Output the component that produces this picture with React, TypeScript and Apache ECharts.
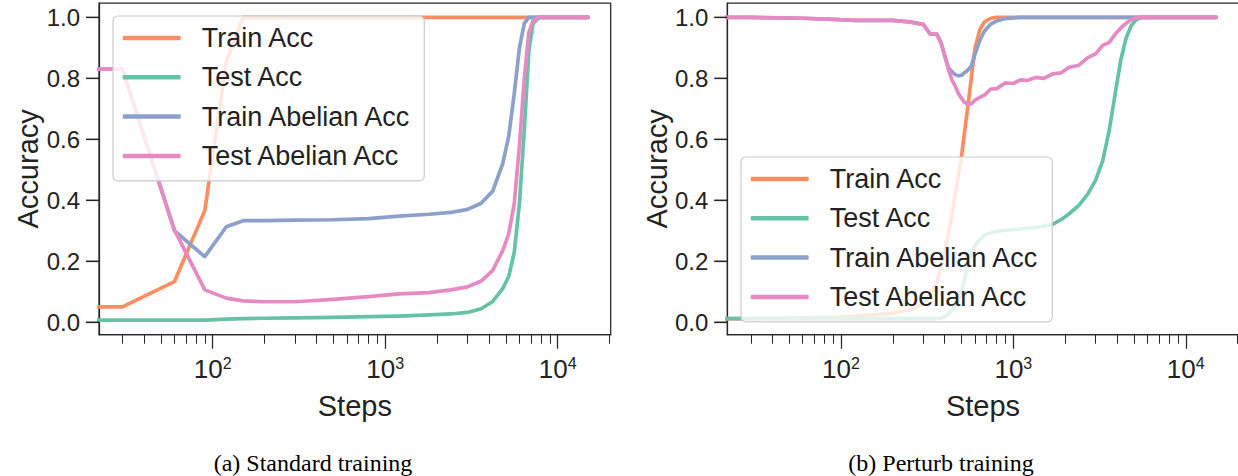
import React, { useEffect, useRef } from "react";
import * as echarts from "echarts";

const SERIES_NAMES = ["Train Acc", "Test Acc", "Train Abelian Acc", "Test Abelian Acc"];
const COLORS = ["#fc8d62", "#66c2a5", "#8da0cb", "#e78ac3"];

const Y_TICKS = [0, 0.2, 0.4, 0.6, 0.8, 1.0];
const X_MAJOR_TICKS = [100, 1000, 10000];
const X_MINOR_TICKS = [
  30, 40, 50, 60, 70, 80, 90,
  200, 300, 400, 500, 600, 700, 800, 900,
  2000, 3000, 4000, 5000, 6000, 7000, 8000, 9000,
  20000,
];
const CAPTIONS = ["(a) Standard training", "(b) Perturb training"];

// (a) Standard training  (first step stands for step 0, which falls left of the log axis)
const stdSteps = [20, 30, 60, 90, 120, 150, 200, 300, 500, 800, 1200, 1800, 2400, 3000, 3600, 4200, 4800, 5200, 5600, 6000, 6400, 6800, 7200, 7800, 9000, 15000];
const stdTrainAcc = [0.05, 0.05, 0.133, 0.366, 0.855, 1.0, 1.0, 1.0, 1.0, 1.0, 1.0, 1.0, 1.0, 1.0, 1.0, 1.0, 1.0, 1.0, 1.0, 1.0, 1.0, 1.0, 1.0, 1.0, 1.0, 1.0];
const stdTestAcc = [0.007, 0.007, 0.007, 0.007, 0.01, 0.012, 0.013, 0.014, 0.016, 0.018, 0.02, 0.024, 0.027, 0.032, 0.044, 0.068, 0.11, 0.15, 0.23, 0.39, 0.63, 0.89, 0.98, 1.0, 1.0, 1.0];
const stdTrainAbelian = [0.83, 0.83, 0.3, 0.215, 0.313, 0.333, 0.333, 0.335, 0.336, 0.34, 0.348, 0.354, 0.36, 0.37, 0.39, 0.43, 0.52, 0.61, 0.75, 0.9, 0.98, 1.0, 1.0, 1.0, 1.0, 1.0];
const stdTestAbelian = [0.83, 0.83, 0.303, 0.106, 0.079, 0.07, 0.067, 0.067, 0.075, 0.084, 0.093, 0.097, 0.106, 0.116, 0.135, 0.17, 0.235, 0.29, 0.39, 0.58, 0.8, 0.95, 0.99, 1.0, 1.0, 1.0];

// (b) Perturb training
const ptbSteps = [20, 30, 60, 90, 120, 150, 200, 250, 300, 330, 360, 380, 400, 420, 440, 460, 480, 500, 520, 540, 570, 600, 640, 680, 740, 800, 900, 1000, 1100, 1200, 1350, 1500, 1700, 1900, 2100, 2400, 2700, 3000, 3300, 3600, 3900, 4200, 4500, 4800, 5100, 5500, 7000, 15000];
const ptbTrainAcc = [0.012, 0.012, 0.014, 0.016, 0.02, 0.024, 0.03, 0.04, 0.06, 0.09, 0.13, 0.18, 0.23, 0.29, 0.35, 0.42, 0.48, 0.54, 0.62, 0.69, 0.8, 0.9, 0.96, 0.985, 0.997, 1.0, 1.0, 1.0, 1.0, 1.0, 1.0, 1.0, 1.0, 1.0, 1.0, 1.0, 1.0, 1.0, 1.0, 1.0, 1.0, 1.0, 1.0, 1.0, 1.0, 1.0, 1.0, 1.0];
const ptbTestAcc = [0.012, 0.012, 0.012, 0.012, 0.012, 0.012, 0.012, 0.012, 0.012, 0.012, 0.012, 0.013, 0.018, 0.026, 0.04, 0.055, 0.075, 0.1, 0.135, 0.18, 0.225, 0.252, 0.272, 0.285, 0.293, 0.298, 0.301, 0.304, 0.306, 0.308, 0.311, 0.315, 0.322, 0.337, 0.355, 0.383, 0.42, 0.465, 0.53, 0.63, 0.75, 0.86, 0.93, 0.97, 0.99, 1.0, 1.0, 1.0];
const ptbTrainAbelian = [1.0, 1.0, 0.997, 0.993, 0.99, 0.99, 0.99, 0.985, 0.977, 0.945, 0.945, 0.918, 0.875, 0.835, 0.822, 0.812, 0.808, 0.81, 0.818, 0.825, 0.84, 0.88, 0.925, 0.955, 0.978, 0.988, 0.996, 0.998, 1.0, 1.0, 1.0, 1.0, 1.0, 1.0, 1.0, 1.0, 1.0, 1.0, 1.0, 1.0, 1.0, 1.0, 1.0, 1.0, 1.0, 1.0, 1.0, 1.0];
const ptbTestAbelian = [1.0, 1.0, 0.997, 0.993, 0.99, 0.99, 0.99, 0.985, 0.977, 0.945, 0.945, 0.918, 0.875, 0.83, 0.795, 0.775, 0.75, 0.735, 0.722, 0.716, 0.716, 0.728, 0.738, 0.745, 0.765, 0.766, 0.785, 0.783, 0.795, 0.793, 0.803, 0.8, 0.815, 0.818, 0.836, 0.843, 0.868, 0.88, 0.908, 0.918, 0.945, 0.965, 0.98, 0.992, 0.998, 1.0, 1.0, 1.0];

const PANELS = [
  { steps: stdSteps, values: [stdTrainAcc, stdTestAcc, stdTrainAbelian, stdTestAbelian] },
  { steps: ptbSteps, values: [ptbTrainAcc, ptbTestAcc, ptbTrainAbelian, ptbTestAbelian] },
];

const SANS = '"Liberation Sans", Arial, Helvetica, sans-serif';
const SERIF = '"Liberation Serif", "Times New Roman", serif';
const INK = "#262626";
const X_MIN = 21.93;
const X_MAX = 20280;
const Y_MIN = -0.041;
const Y_MAX = 1.047;
const Y_TICK_LEN = 13;

const GRIDS = [
  { left: 99, top: 3, width: 511.7, height: 331.7 },
  { left: 727.3, top: 3, width: 511.4, height: 331.7 },
];
const LEGEND_POS = [
  { left: 113, top: 16 },
  { left: 741, top: 157 },
];
const CAPTION_POS = [
  { x: 313, y: 463 },
  { x: 941, y: 463 },
];

function tickOnlyX(gi: number, values: number[], length: number, width: number) {
  return {
    type: "log",
    logBase: 10,
    gridIndex: gi,
    min: X_MIN,
    max: X_MAX,
    position: "bottom",
    axisLine: { show: false, onZero: false },
    axisTick: { show: true, inside: false, customValues: values, length, lineStyle: { color: INK, width } },
    axisLabel: { show: false },
    minorTick: { show: false },
    splitLine: { show: false },
  };
}

function captionGraphics() {
  return CAPTIONS.map((text, i) => ({
    id: `caption-${i}`,
    type: "text",
    x: CAPTION_POS[i].x,
    y: CAPTION_POS[i].y,
    style: {
      text,
      fontSize: 24,
      fontFamily: SERIF,
      fill: "#000",
      align: "center",
      verticalAlign: "middle",
    },
  }));
}

function buildOption() {
  const grid = GRIDS.map((g) => ({ ...g, show: true, borderColor: INK, borderWidth: 1.25, backgroundColor: "transparent", outerBoundsMode: "none" }));
  const xAxis: any[] = [];
  const yAxis: any[] = [];
  GRIDS.forEach((_, gi) => {
    xAxis.push({
      type: "log",
      logBase: 10,
      gridIndex: gi,
      min: X_MIN,
      max: X_MAX,
      position: "bottom",
      axisLine: { show: true, onZero: false, lineStyle: { color: INK, width: 1.25 } },
      axisTick: { show: false },
      minorTick: { show: false },
      splitLine: { show: false },
      axisLabel: {
        customValues: X_MAJOR_TICKS,
        margin: 21,
        formatter: (v: number) => {
          const e = v > 20 ? Math.round(Math.log10(v)) : Math.round(v);
          return `{b|10}{s|${e}}`;
        },
        rich: {
          b: { fontSize: 26, lineHeight: 26, fontFamily: SANS, color: "#222", padding: [9, 0, 0, 0], verticalAlign: "bottom" },
          s: { fontSize: 16, lineHeight: 16, fontFamily: SANS, color: "#222", verticalAlign: "top" },
        },
      },
      name: "Steps",
      nameLocation: "middle",
      nameGap: 57,
      nameTextStyle: { fontSize: 29, color: "#222", fontFamily: SANS },
    });
    xAxis.push(tickOnlyX(gi, X_MAJOR_TICKS, 14, 1.25));
    xAxis.push(tickOnlyX(gi, X_MINOR_TICKS, 9, 1));
    yAxis.push({
      type: "value",
      gridIndex: gi,
      min: Y_MIN,
      max: Y_MAX,
      position: "left",
      axisLine: { show: true, onZero: false, lineStyle: { color: INK, width: 1.25 } },
      axisTick: { show: true, inside: false, customValues: Y_TICKS, length: Y_TICK_LEN, lineStyle: { color: INK, width: 1.25 } },
      splitLine: { show: false },
      axisLabel: {
        customValues: Y_TICKS,
        formatter: (v: number) => v.toFixed(1),
        fontSize: 24,
        color: "#222",
        fontFamily: SANS,
        margin: 19,
      },
      name: "Accuracy",
      nameLocation: "middle",
      nameGap: 56,
      nameTextStyle: { fontSize: 29, color: "#222", fontFamily: SANS },
    });
  });

  const series: any[] = [];
  PANELS.forEach((p, pi) => {
    p.values.forEach((vals, si) => {
      series.push({
        type: "line",
        name: SERIES_NAMES[si],
        xAxisIndex: pi * 3,
        yAxisIndex: pi,
        data: p.steps.map((s, i) => [s, vals[i]]),
        showSymbol: false,
        symbol: "none",
        clip: true,
        lineStyle: { width: 3.7, color: COLORS[si], cap: "round", join: "round" },
        itemStyle: { color: COLORS[si] },
        z: 2 + si,
      });
    });
  });

  const legend = LEGEND_POS.map((pos) => ({
    ...pos,
    orient: "vertical",
    data: SERIES_NAMES,
    icon: "roundRect",
    itemWidth: 58,
    itemHeight: 4.5,
    itemGap: 9.3,
    selectedMode: false,
    textStyle: { fontSize: 27, color: "#222", fontFamily: SANS, padding: [0, 0, 0, 16], lineHeight: 30 },
    padding: [7, 12, 10, 9.7],
    backgroundColor: "rgba(255,255,255,0.8)",
    borderColor: "#cccccc",
    borderWidth: 1.2,
    borderRadius: 5,
    z: 10,
  }));

  return {
    animation: false,
    backgroundColor: "#ffffff",
    color: COLORS,
    grid,
    xAxis,
    yAxis,
    series,
    legend,
    graphic: captionGraphics(),
  };
}

export default function App() {
  const ref = useRef<HTMLDivElement>(null);
  useEffect(() => {
    if (!ref.current) return;
    const chart = echarts.init(ref.current, null, { renderer: "svg" });
    chart.setOption(buildOption() as any);
    // y tick marks: positions obtained from each panel's own scales
    const tickGraphics: any[] = [];
    GRIDS.forEach((_, gi) => {
      Y_TICKS.forEach((t, k) => {
        const pt = chart.convertToPixel({ xAxisIndex: gi * 3, yAxisIndex: gi } as any, [X_MIN, t]) as number[];
        if (!pt || !isFinite(pt[0]) || !isFinite(pt[1])) return;
        tickGraphics.push({
          id: `ytick-${gi}-${k}`,
          type: "line",
          z: 50,
          shape: { x1: pt[0] - Y_TICK_LEN, y1: pt[1], x2: pt[0], y2: pt[1] },
          style: { stroke: INK, lineWidth: 1.25 },
          silent: true,
        });
      });
    });
    chart.setOption({ graphic: [...captionGraphics(), ...tickGraphics] } as any);
    return () => chart.dispose();
  }, []);
  return (
    <div
      ref={ref}
      style={{ position: "fixed", left: 0, top: 0, width: 1238, height: 476, background: "#fff" }}
    />
  );
}
